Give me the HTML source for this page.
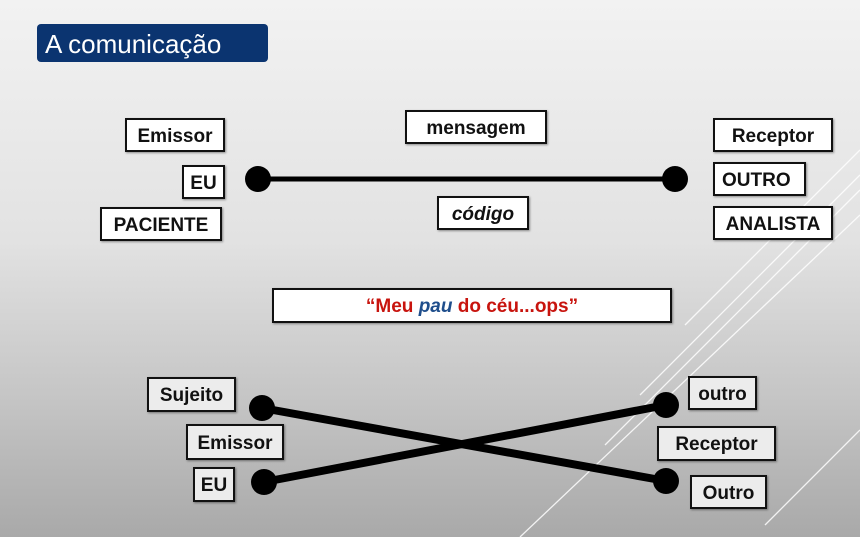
<!DOCTYPE html>
<html><head><style>
body{margin:0;width:860px;height:537px;overflow:hidden;position:relative;background:linear-gradient(180deg,#f2f2f2 0%,#e2e2e2 45%,#c4c4c4 75%,#a9a9a9 100%);font-family:"Liberation Sans",sans-serif;}
.b{position:absolute;box-sizing:border-box;border:2px solid #111;background:#fff;font-weight:bold;font-size:19px;display:flex;align-items:center;justify-content:center;color:#111;box-shadow:1px 1px 2px rgba(0,0,0,.4);padding-top:3px;}
.g{background:#ececec;}
svg{position:absolute;left:0;top:0;}
</style></head><body>
<svg width="860" height="537">
<g stroke="#fff" stroke-width="1.3" opacity="0.85" fill="none">
<line x1="860" y1="150" x2="685" y2="325"/>
<line x1="860" y1="175" x2="640" y2="395"/>
<line x1="860" y1="190" x2="605" y2="445"/>
<line x1="860" y1="215" x2="520" y2="537"/>
<line x1="860" y1="430" x2="765" y2="525"/>
</g>
<line x1="258" y1="179" x2="675" y2="179" stroke="#000" stroke-width="5"/>
<circle cx="258" cy="179" r="13"/><circle cx="675" cy="179" r="13"/>
<line x1="262" y1="408" x2="666" y2="481" stroke="#000" stroke-width="8"/>
<line x1="264" y1="482" x2="666" y2="405" stroke="#000" stroke-width="8"/>
<circle cx="262" cy="408" r="13"/><circle cx="264" cy="482" r="13"/>
<circle cx="666" cy="405" r="13"/><circle cx="666" cy="481" r="13"/>
</svg>
<div style="position:absolute;left:37px;top:24px;width:231px;height:38px;background:#0b3470;border-radius:4px;color:#fff;font-size:26px;line-height:40px;padding-left:8px;box-sizing:border-box;">A comunicação</div>
<div class="b" style="left:125px;top:118px;width:100px;height:34px">Emissor</div>
<div class="b" style="left:182px;top:165px;width:43px;height:34px">EU</div>
<div class="b" style="left:100px;top:207px;width:122px;height:34px">PACIENTE</div>
<div class="b" style="left:405px;top:110px;width:142px;height:34px">mensagem</div>
<div class="b" style="left:437px;top:196px;width:92px;height:34px;font-style:italic">código</div>
<div class="b" style="left:713px;top:118px;width:120px;height:34px">Receptor</div>
<div class="b" style="left:713px;top:162px;width:93px;height:34px;justify-content:flex-start;padding-left:7px">OUTRO</div>
<div class="b" style="left:713px;top:206px;width:120px;height:34px">ANALISTA</div>
<div class="b" style="left:272px;top:288px;width:400px;height:35px;color:#c8140e;">“Meu&nbsp;<i style="color:#1f4e8c">pau</i>&nbsp;do céu...ops”</div>
<div class="b g" style="left:147px;top:377px;width:89px;height:35px">Sujeito</div>
<div class="b g" style="left:186px;top:424px;width:98px;height:36px">Emissor</div>
<div class="b g" style="left:193px;top:467px;width:42px;height:35px">EU</div>
<div class="b g" style="left:688px;top:376px;width:69px;height:34px">outro</div>
<div class="b g" style="left:657px;top:426px;width:119px;height:35px">Receptor</div>
<div class="b g" style="left:690px;top:475px;width:77px;height:34px">Outro</div>
</body></html>
